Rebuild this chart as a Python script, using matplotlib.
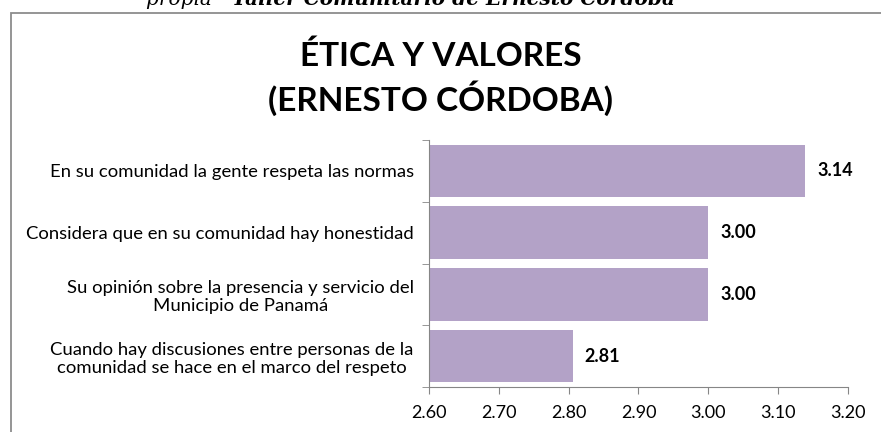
import matplotlib.pyplot as plt
from matplotlib.patches import Rectangle

categorias = ["En su comunidad la gente respeta las normas",
              "Considera que en su comunidad hay honestidad",
              "Su opinión sobre la presencia y servicio del\nMunicipio de Panamá",
              "Cuando hay discusiones entre personas de la\ncomunidad se hace en el marco del respeto"]
valores = [3.139, 3.00, 3.00, 2.806]
xticks = [2.60, 2.70, 2.80, 2.90, 3.00, 3.10, 3.20]

plt.rcParams['font.family'] = ['Lato', 'DejaVu Sans']

fig = plt.figure(figsize=(8.81, 4.32), dpi=100)

# marco del grafico (cortado a la derecha y abajo)
fig.patches.append(Rectangle((11/881, -0.05), 1.0, 1 - 13/432 + 0.05, transform=fig.transFigure,
                             fill=False, edgecolor='#8c8c8c', linewidth=1.3))

# pie de la figura anterior, cortado arriba
fig.text(0.263, 1 - 5/432, "propia - ", ha='right', va='baseline', fontsize=14.5,
         family='DejaVu Serif', style='italic', color='black')
fig.text(0.263, 1 - 5/432, "Taller Comunitario de Ernesto Córdoba", ha='left', va='baseline',
         fontsize=14.5, family='DejaVu Serif', style='italic', weight='bold', color='black')

fig.text(0.5, 1 - 78/432, "ÉTICA Y VALORES\n(ERNESTO CÓRDOBA)", ha='center', va='center',
         fontsize=24, weight='bold', linespacing=1.3)

ax = fig.add_axes([429/881, 1 - 387/432, (848 - 429)/881, (387 - 140)/432])
pos = list(range(len(categorias)))
ax.barh(pos, valores, height=0.85, color='#B3A2C7', left=0)
ax.set_xlim(2.6, 3.2)
ax.set_ylim(len(categorias) - 0.5, -0.5)
ax.set_xticks(xticks)
ax.set_xticklabels(["%.2f" % t for t in xticks], fontsize=13)
ax.set_yticks(pos)
ax.set_yticklabels(categorias, fontsize=13.3, linespacing=1.15)
ax.set_yticks([i - 0.5 for i in range(len(categorias) + 1)], minor=True)
ax.tick_params(axis='y', which='major', length=0, pad=11)
ax.tick_params(axis='y', which='minor', length=5, color='#868686')
ax.tick_params(axis='x', length=5, color='#868686', pad=8)
for lab in ax.get_yticklabels():
    lab.set_horizontalalignment('right')
    lab.set_multialignment('center')

for s in ['top', 'right']:
    ax.spines[s].set_visible(False)
for s in ['left', 'bottom']:
    ax.spines[s].set_color('#868686')

for i, v in enumerate(valores):
    ax.text(v + 0.017, i, "%.2f" % v, va='center', ha='left', fontsize=13, weight='bold')

plt.savefig("out.png", dpi=100)
